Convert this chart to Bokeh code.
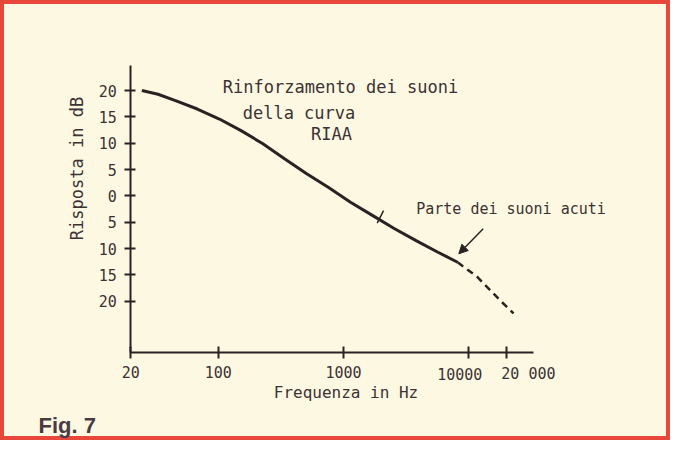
from bokeh.plotting import figure
from bokeh.models import Range1d, FixedTicker, Label, Arrow, NormalHead
from bokeh.embed import file_html
from bokeh.resources import INLINE
import math

# ---- data ----
freq_solid = [24.5, 33, 45.5, 68, 102, 152, 227, 340, 508, 760, 1137, 1700, 2540, 3800, 5680, 8150]
db_solid = [20.0, 19.3, 18.1, 16.5, 14.6, 12.4, 9.9, 7.0, 4.2, 1.6, -1.2, -3.7, -6.2, -8.5, -10.7, -12.6]
freq_dashed = [8150, 11700, 17900, 22800]
db_dashed = [-12.6, -15.4, -19.9, -22.3]
mark_freq = [1970]
mark_db = [-4.0]
y_ticks = [-20, -15, -10, -5, 0, 5, 10, 15, 20]
y_tick_labels = ["20", "15", "10", "5", "0", "5", "10", "15", "20"]
x_ticks = [20, 100, 1000, 10000, 20000]
x_tick_labels = ["20", "100", "1000", "10000", "20 000"]

INK = "#2a2222"
TXT = "#3b3234"
BG = "#fdf8e2"
RED = "#e8483a"
MONO = "DejaVu Sans Mono"

p = figure(width=670, height=440, x_axis_type="log",
           x_range=Range1d(10 ** 0.2603, 10 ** 5.6117),
           y_range=Range1d(-46.46, 37.11),
           output_backend="svg", toolbar_location=None, title=None,
           min_border=0)
p.background_fill_color = BG
p.border_fill_color = BG
p.outline_line_color = RED
p.outline_line_width = 7
p.grid.visible = False

X_AXIS_AT = -29.84
Y_AXIS_AT = 20

xa = p.xaxis[0]
ya = p.yaxis[0]
xa.fixed_location = X_AXIS_AT
ya.fixed_location = Y_AXIS_AT
xa.bounds = (20, 32910)
ya.bounds = (-29.84, 24.77)
xa.ticker = FixedTicker(ticks=x_ticks, minor_ticks=[])
ya.ticker = FixedTicker(ticks=y_ticks, minor_ticks=[])
# the two crowded high-frequency labels are set beside their ticks below
crowded = {10000: -9, 20000: 22}
xa.major_label_overrides = {t: ("" if t in crowded else l) for t, l in zip(x_ticks, x_tick_labels)}
ya.major_label_overrides = {t: l for t, l in zip(y_ticks, y_tick_labels)}
for ax in (xa, ya):
    ax.axis_line_color = INK
    ax.axis_line_width = 2
    ax.major_tick_line_color = INK
    ax.major_tick_line_width = 2
    ax.minor_tick_line_color = None
    ax.major_label_text_font = MONO
    ax.major_label_text_font_size = "15px"
    ax.major_label_text_color = TXT
xa.major_tick_in = 6
xa.major_tick_out = 6
xa.major_label_standoff = 7
ya.major_tick_in = 5
ya.major_tick_out = 6
ya.major_label_standoff = 8

for t, l in zip(x_ticks, x_tick_labels):
    if t in crowded:
        p.add_layout(Label(x=t, y=X_AXIS_AT, x_offset=crowded[t], y_offset=-21,
                           text=l, text_font=MONO, text_font_size="15px",
                           text_color=TXT, text_align="center",
                           text_baseline="middle"))

# curve
p.line(freq_solid, db_solid, line_width=3, line_color=INK)
p.line(freq_dashed, db_dashed, line_width=2.5, line_color=INK, line_dash="7 5")
p.scatter(mark_freq, mark_db, marker="dash", size=14, angle=1.1,
          line_width=1.5, line_color=INK)

p.add_layout(Arrow(end=NormalHead(size=9, fill_color=INK, line_color=INK),
                   x_start=13050, y_start=-6.25, x_end=8333, y_end=-11.0,
                   line_width=1.5, line_color=INK))

def lab(x, y, text, size="15px", angle=0, align="center", font=MONO,
        style="normal", color=TXT):
    p.add_layout(Label(x=x, y=y, text=text, text_font=font, text_font_size=size,
                       text_font_style=style, text_color=color, angle=angle,
                       text_align=align, text_baseline="middle"))

lab(946, 20.6, "Rinforzamento dei suoni", size="17px")
lab(441, 15.8, "della curva", size="17px")
lab(802, 11.7, "RIAA", size="17px")
lab(21770, -2.4, "Parte dei suoni acuti", size="15px")
lab(7.5, 5.2, "Risposta in dB", size="17px", angle=math.pi / 2)
lab(1047, -37.3, "Frequenza in Hz", size="16px")
lab(3.66, -43.6, "Fig. 7", size="22px", align="left", font="Liberation Sans",
    style="bold", color="#4a3b42")

open("out.html", "w").write(file_html(p, INLINE))
